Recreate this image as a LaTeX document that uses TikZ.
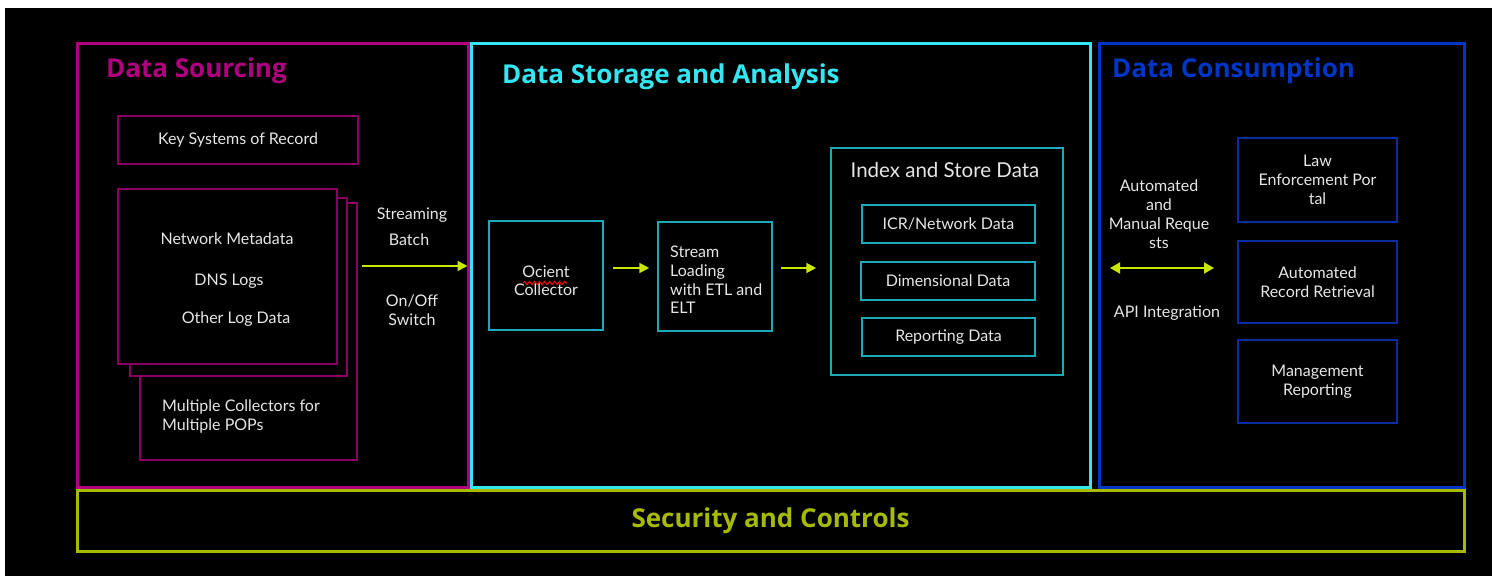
\documentclass[tikz,border=0pt]{standalone}
\usepackage{fontspec}
\setmainfont{Lato}
\newfontfamily\titlefont{Open Sans}
\usetikzlibrary{arrows.meta,decorations.pathmorphing}
\definecolor{mag}{HTML}{B0007F}
\definecolor{magd}{HTML}{8A0062}
\definecolor{cyn}{HTML}{33E6F2}
\definecolor{cynd}{HTML}{1FA8B8}
\definecolor{blu}{HTML}{0036C8}
\definecolor{blud}{HTML}{0A2C9E}
\definecolor{ygr}{HTML}{A6BA00}
\definecolor{arrc}{HTML}{C8E600}
\definecolor{txt}{HTML}{E6E6E6}
\tikzset{
  box/.style={draw, fill=black, inner sep=0pt, line width=1.5pt, text=txt,
    font=\fontsize{16}{19}\selectfont, align=center},
  outer/.style={draw, inner sep=0pt, line width=3pt},
  lbl/.style={text=txt, font=\fontsize{16}{19}\selectfont, align=center, inner sep=0pt},
  ttl/.style={font=\titlefont\bfseries\fontsize{26}{30}\selectfont, inner sep=0pt, anchor=west},
  flow/.style={draw=arrc, line width=2pt, -{Triangle[length=10pt,width=10pt]}},
  flow2/.style={draw=arrc, line width=2pt, {Triangle[length=10pt,width=11pt]}-{Triangle[length=10pt,width=11pt]}}
}
\begin{document}
\begin{tikzpicture}[x=1pt,y=-1pt]
\useasboundingbox (0,0) rectangle (1492,576);
\fill[white] (0,0) rectangle (1492,576);
\fill[black] (5,8) rectangle (1492,576);

% outer panels
\node[outer, draw=mag, minimum width=391pt, minimum height=444pt] (sourcing) at (272.5,265) {};
\node[outer, draw=cyn, minimum width=619pt, minimum height=444pt] (storage) at (780.5,265) {};
\node[outer, draw=blu, minimum width=365pt, minimum height=444pt] (consumption) at (1281.5,265) {};
\node[outer, draw=ygr, minimum width=1387pt, minimum height=61pt] (security) at (770.5,520.5) {};

% titles
\node[ttl, text=mag] (t1) at (106,71) {Data Sourcing};
\node[ttl, text=cyn] (t2) at (502,77) {Data Storage and Analysis};
\node[ttl, text=blu] (t3) at (1112,71) {Data Consumption};
\node[font=\titlefont\bfseries\fontsize{26}{30}\selectfont, text=ygr, inner sep=0pt] (t4) at (770.5,520.5) {Security and Controls};

% data sourcing
\node[box, draw=magd, minimum width=240pt, minimum height=48pt] (key) at (238,140) {Key Systems of Record};
\node[box, draw=magd, minimum width=217pt, minimum height=257pt] (stack3) at (248.5,331.5) {};
\node[box, draw=magd, minimum width=217pt, minimum height=178pt] (stack2) at (238.5,287) {};
\node[box, draw=magd, minimum width=219pt, minimum height=175pt] (stack1) at (227.5,276.5) {};
\node[lbl] (nm) at (227,239) {Network Metadata};
\node[lbl] (dns) at (229,281) {DNS Logs};
\node[lbl] (old) at (236,319) {Other Log Data};
\node[lbl, align=left, anchor=west] (mc) at (162,416) {Multiple Collectors for\\Multiple POPs};

\node[lbl] (s1) at (412,215) {Streaming};
\node[lbl] (s2) at (409,240) {Batch};
\node[lbl] (s3) at (412,310.5) {On/Off\\Switch};
\coordinate (a1s) at (362,266);
\draw[flow, shorten >=2pt] (a1s) -- (storage.west |- a1s);

% data storage
\node[box, draw=cynd, minimum width=114pt, minimum height=109pt] (ocient) at (546,275.5) {};
\node[lbl, font=\fontsize{16}{18}\selectfont] (octxt) at (546,281) {Ocient\\Collector};
\draw[red, line width=1pt, decorate, decoration={snake, amplitude=1.6pt, segment length=5pt}] (523,283) -- (567,283);
\node[box, draw=cynd, minimum width=114pt, minimum height=109pt] (stream) at (715,276.5) {};
\node[lbl, align=left, anchor=west, font=\fontsize{16}{18.7}\selectfont] (sttxt) at (670,280) {Stream\\Loading\\with ETL and\\ELT};
\node[box, draw=cynd, minimum width=232pt, minimum height=227pt] (index) at (947,261.5) {};
\node[lbl, font=\fontsize{20.5}{24}\selectfont] (idxt) at (945,170) {Index and Store Data};
\node[box, draw=cynd, minimum width=173pt, minimum height=38pt] (icr) at (948.5,224) {ICR/Network Data};
\node[box, draw=cynd, minimum width=174pt, minimum height=38pt] (dim) at (948,281) {Dimensional Data};
\node[box, draw=cynd, minimum width=173pt, minimum height=38pt] (rep) at (948.5,337) {Reporting Data};
\draw[flow] ([xshift=9pt]ocient.east |- 0,268) -- ([xshift=-8pt]stream.west |- 0,268);
\draw[flow] ([xshift=8pt]stream.east |- 0,268) -- ([xshift=-14pt]index.west |- 0,268);

% data consumption
\node[lbl, font=\fontsize{16}{19}\selectfont] (amr) at (1159,214) {Automated\\and\\Manual Reque\\sts};
\coordinate (a3s) at (1110,268);
\coordinate (a3e) at (1214,268);
\draw[flow2] (a3s) -- (a3e);
\node[lbl] (api) at (1167,313) {API Integration};
\node[box, draw=blud, minimum width=159pt, minimum height=84pt] (law) at (1317.5,180) {Law\\Enforcement Por\\tal};
\node[box, draw=blud, minimum width=159pt, minimum height=82pt] (arr) at (1317.5,282) {Automated\\Record Retrieval};
\node[box, draw=blud, minimum width=159pt, minimum height=83pt] (mgmt) at (1317.5,381.5) {Management\\Reporting};
\end{tikzpicture}
\end{document}
